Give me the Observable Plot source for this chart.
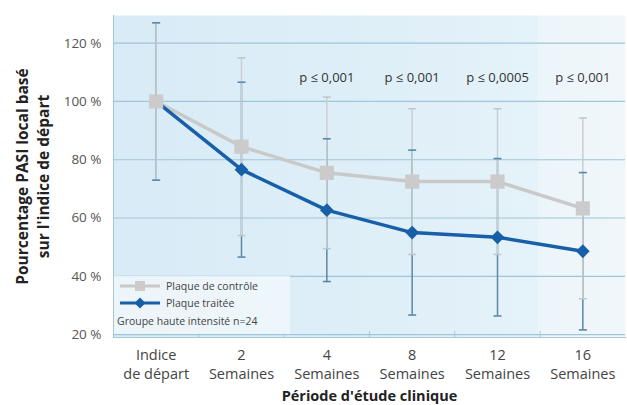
<!DOCTYPE html>
<html>
<head>
<meta charset="utf-8">
<script src="https://cdn.jsdelivr.net/npm/d3@7"></script>
<script src="https://cdn.jsdelivr.net/npm/@observablehq/plot@0.6"></script>
<style>
  html, body { margin: 0; padding: 0; background: #fff; }
  #wrap { position: relative; width: 627px; height: 405px; font-family: "Open Sans", sans-serif; }
  #legend { position: absolute; left: 114px; top: 276px; width: 176px; height: 58px;
    background: rgba(238,246,250,0.9); font-size: 10.5px; color: #444; }
  #legend .row { position: absolute; left: 6px; display: flex; align-items: center; }
  #legend svg { margin-right: 6px; }
</style>
</head>
<body>
<div id="wrap"></div>
<script>
// ---- data ----
const categories = ["Indice\nde départ", "2\nSemaines", "4\nSemaines", "8\nSemaines", "12\nSemaines", "16\nSemaines"];
const controlMean = [100, 84.5, 75.5, 72.5, 72.5, 63.3];
const controlErr  = [27, 30.5, 26, 25, 25, 31];
const treatedMean = [100, 76.6, 62.7, 55.0, 53.4, 48.6];
const treatedErr  = [27, 30, 24.5, 28.3, 27, 27];
const pIndex  = [2, 3, 4, 5];
const pLabels = ["p ≤ 0,001", "p ≤ 0,001", "p ≤ 0,0005", "p ≤ 0,001"];
const pLevel  = 108;
const yTicks  = [20, 40, 60, 80, 100, 120];
const yTitle  = "Pourcentage PASI local basé\nsur l'indice de départ";
const xTitle  = "Période d'étude clinique";
const legendLabels = ["Plaque de contrôle", "Plaque traitée", "Groupe haute intensité n=24"];

const idx = categories.map((_, i) => i);
const control = idx.map(i => ({i, v: controlMean[i], e: controlErr[i]}));
const treated = idx.map(i => ({i, v: treatedMean[i], e: treatedErr[i]}));
const boundaries = idx.slice(1).map(i => i - 0.5);
const pData = pIndex.map((i, k) => ({i, label: pLabels[k]}));

const grey = "#c9c9c9", blue = "#175fa8";
const capSymbol = { draw(ctx, size) { const w = Math.sqrt(size) / 2; ctx.moveTo(-w, 0); ctx.lineTo(w, 0); } };

const chart = Plot.plot({
  width: 627, height: 405,
  marginLeft: 113, marginRight: 2, marginTop: 15, marginBottom: 68,
  style: { fontFamily: "Open Sans, sans-serif", background: "transparent" },
  x: { type: "linear", domain: [-0.5, 5.5], axis: null },
  y: { domain: [19, 129.5], axis: null },
  marks: [
    Plot.frame({ fill: "url(#bgGrad)", stroke: null }),
    Plot.ruleY(yTicks, { stroke: "#9fc6d9", strokeWidth: 1.2 }),
    Plot.frame({ anchor: "left", stroke: "#a7c7d7" }),
    Plot.frame({ anchor: "bottom", stroke: "#a7c7d7" }),
    Plot.ruleX(boundaries, { y1: 19, y2: 21, stroke: "#a7c7d7" }),
    Plot.axisY({ ticks: yTicks, label: null, tickSize: 0, tickPadding: 12, tickFormat: d => d + " %", fontSize: 13.5, fill: "#555" }),
    Plot.axisX({ ticks: idx, label: null, tickSize: 0, tickPadding: 9, tickFormat: i => categories[i], fontSize: 14.5, lineHeight: 1.3, fill: "#444" }),
    Plot.text([yTitle], { frameAnchor: "left", textAnchor: "middle", dx: -82, rotate: -90, fontSize: 15.5, fontWeight: "bold", lineHeight: 1.35, fill: "#222" }),
    Plot.text([xTitle], { frameAnchor: "bottom", textAnchor: "middle", dy: 63, fontSize: 14.5, fontWeight: "bold", fill: "#222" }),
    Plot.text(pData, { x: "i", y: pLevel, text: "label", fontSize: 13, fill: "#333" }),
    // error bars: treated first, control drawn over it
    Plot.ruleX(treated, { x: "i", y1: d => d.v - d.e, y2: d => d.v + d.e, stroke: "#5b88a6", strokeWidth: 1.5 }),
    Plot.ruleX(control, { x: "i", y1: d => d.v - d.e, y2: d => d.v + d.e, stroke: "#c9ced1", strokeWidth: 1.5 }),
    Plot.dot(control, { x: "i", y: d => d.v - d.e, symbol: capSymbol, r: 4.5, stroke: "#c0c6c9", strokeWidth: 1.5 }),
    Plot.dot(control, { x: "i", y: d => d.v + d.e, symbol: capSymbol, r: 4.5, stroke: "#c0c6c9", strokeWidth: 1.5 }),
    Plot.dot(treated, { x: "i", y: d => d.v - d.e, symbol: capSymbol, r: 4.5, stroke: "#5b88a6", strokeWidth: 1.6 }),
    Plot.dot(treated, { x: "i", y: d => d.v + d.e, symbol: capSymbol, r: 4.5, stroke: "#5b88a6", strokeWidth: 1.6 }),
    // lines
    Plot.line(control, { x: "i", y: "v", stroke: grey, strokeWidth: 3.5 }),
    Plot.line(treated, { x: "i", y: "v", stroke: blue, strokeWidth: 3.5 }),
    Plot.dot(treated, { x: "i", y: "v", symbol: d3.symbolDiamond2, r: 6.2, fill: blue, stroke: null }),
    Plot.dot(control, { x: "i", y: "v", symbol: d3.symbolSquare, r: 8, fill: "#cbcbcb", stroke: null })
  ]
});

// gradient background
const svg = d3.select(chart);
const defs = svg.insert("defs", ":first-child");
const g = defs.append("linearGradient").attr("id", "bgGrad").attr("x1", "0").attr("x2", "1").attr("y1", "0").attr("y2", "0");
[[0, "#d8ebf6"], [0.55, "#dfeff8"], [0.828, "#e5f2f9"], [0.83, "#ecf5fa"], [1, "#f0f7fb"]].forEach(([o, c]) =>
  g.append("stop").attr("offset", o).attr("stop-color", c));

const wrap = document.getElementById("wrap");
wrap.appendChild(chart);

// legend (inside plot area, lower left)
const legend = document.createElement("div");
legend.id = "legend";
const sample = (color, kind) => {
  const marker = kind === "square"
    ? `<rect x="15" y="2" width="10" height="10" fill="#cbcbcb"/>`
    : `<path d="M20,1.5 L25.5,7 L20,12.5 L14.5,7 Z" fill="${color}"/>`;
  return `<svg width="40" height="14"><line x1="0" x2="40" y1="7" y2="7" stroke="${color}" stroke-width="3"/>${marker}</svg>`;
};
legend.innerHTML =
  `<div class="row" style="top:3px">${sample(grey, "square")}<span>${legendLabels[0]}</span></div>` +
  `<div class="row" style="top:20px">${sample(blue, "diamond")}<span>${legendLabels[1]}</span></div>` +
  `<div class="row" style="top:38px;left:3px"><span>${legendLabels[2]}</span></div>`;
wrap.appendChild(legend);
</script>
</body>
</html>
